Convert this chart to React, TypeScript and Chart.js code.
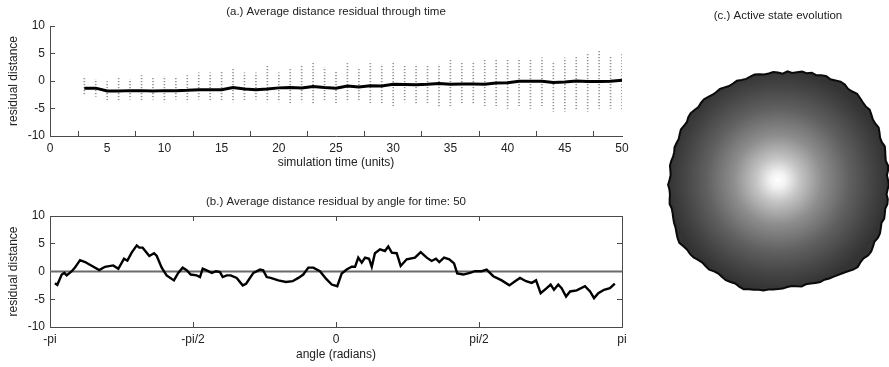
import React, { useEffect, useRef } from 'react';
import { Chart, registerables } from 'chart.js';

Chart.register(...registerables);

// ---------- Panel (a) data ----------
const timeSteps = [3, 4, 5, 6, 7, 8, 9, 10, 11, 12, 13, 14, 15, 16, 17, 18, 19, 20, 21, 22, 23, 24, 25, 26, 27, 28, 29, 30, 31, 32, 33, 34, 35, 36, 37, 38, 39, 40, 41, 42, 43, 44, 45, 46, 47, 48, 49, 50];
const meanResidual = [-1.3, -1.3, -1.8, -1.8, -1.75, -1.75, -1.8, -1.75, -1.75, -1.7, -1.6, -1.6, -1.6, -1.2, -1.45, -1.6, -1.45, -1.25, -1.2, -1.25, -1.0, -1.2, -1.3, -0.9, -1.1, -0.85, -0.9, -0.6, -0.65, -0.7, -0.6, -0.45, -0.6, -0.55, -0.55, -0.6, -0.35, -0.3, -0.05, -0.05, -0.05, -0.25, -0.2, 0.0, -0.1, -0.1, -0.05, 0.15];
const spreadHigh = [0.5, 0.3, 0.0, 0.5, 0.3, 1.0, 0.5, 0.8, 0.5, 1.0, 1.5, 1.5, 1.8, 2.3, 1.5, 1.5, 2.8, 1.5, 2.2, 2.8, 3.3, 2.5, 1.8, 3.2, 2.2, 3.2, 3.0, 3.5, 2.8, 3.0, 2.8, 3.0, 4.0, 3.5, 3.5, 4.0, 3.8, 3.8, 4.0, 4.0, 4.2, 3.5, 4.2, 4.5, 5.0, 5.5, 4.5, 5.0];
const spreadLow = [-2.5, -2.8, -3.5, -3.5, -3.3, -3.5, -3.3, -3.8, -3.3, -3.8, -3.3, -3.5, -3.5, -3.8, -3.5, -3.3, -3.8, -3.8, -4.0, -3.8, -4.2, -3.5, -4.0, -3.8, -3.5, -4.0, -4.0, -4.5, -3.8, -4.2, -4.0, -4.8, -4.5, -4.0, -4.2, -4.5, -4.5, -5.0, -4.5, -5.0, -4.5, -5.5, -5.5, -5.2, -5.5, -5.0, -5.0, -5.3];

// ---------- Panel (b) data (angle in degrees, shown with radian labels) ----------
const angleDeg = [-176.9, -175.4, -172.6, -171.0, -169.5, -166.3, -164.3, -161.1, -157.9, -152.7, -149.0, -145.4, -140.2, -137.0, -133.4, -131.3, -128.6, -125.4, -123.8, -121.7, -117.5, -114.5, -112.8, -109.7, -106.6, -102.0, -99.3, -96.5, -94.0, -91.4, -87.7, -85.6, -83.9, -81.4, -78.2, -75.5, -73.0, -71.3, -68.8, -66.3, -62.5, -58.7, -56.6, -52.0, -47.8, -45.8, -43.6, -41.1, -36.3, -31.5, -27.3, -23.7, -20.6, -17.4, -14.3, -10.1, -6.3, -2.7, 0.8, 3.6, 6.7, 9.9, 12.0, 14.0, 16.2, 18.3, 20.8, 22.5, 24.5, 27.7, 30.8, 32.9, 35.1, 38.2, 40.7, 44.5, 49.7, 53.3, 57.1, 60.2, 62.9, 65.0, 68.0, 71.3, 74.3, 76.3, 80.1, 84.3, 87.5, 91.7, 94.8, 99.0, 104.3, 109.1, 112.7, 115.8, 119.6, 123.2, 125.9, 128.8, 132.6, 135.1, 137.2, 139.9, 142.0, 144.8, 147.3, 151.5, 156.7, 159.9, 162.4, 165.1, 168.7, 172.4, 175.5];
const residualByAngle = [-2.1, -2.4, -0.55, -0.25, -0.7, 0.05, 0.7, 2.05, 1.7, 0.85, 0.25, 0.85, 1.1, 0.5, 2.3, 1.95, 3.4, 4.7, 4.3, 4.3, 2.8, 3.3, 2.8, 0.7, -0.7, -1.6, -0.25, 0.7, 0.25, -0.55, -0.7, -1.0, 0.5, 0.2, -0.25, 0.05, -0.1, -1.0, -0.7, -0.7, -1.15, -2.5, -2.2, -0.25, 0.35, 0.2, -1.0, -1.15, -1.6, -1.9, -1.75, -1.15, -0.55, 0.7, 0.7, 0.05, -1.3, -2.35, -2.65, -0.35, 0.35, 0.85, 0.85, 2.5, 1.6, 2.5, 2.3, 0.85, 3.3, 4.0, 3.7, 4.5, 3.4, 3.3, 1.0, 2.2, 2.5, 3.5, 2.5, 1.9, 2.3, 1.7, 2.5, 2.2, 1.45, -0.35, -0.55, -0.25, 0.05, 0.05, 0.35, -0.85, -1.6, -2.5, -1.75, -1.15, -1.75, -2.05, -1.6, -3.9, -3.0, -2.35, -3.3, -2.35, -3.0, -4.5, -3.6, -3.4, -2.65, -3.6, -4.8, -3.9, -3.3, -3.0, -2.2];
const zeroLineX = [-180, 180];
const zeroLineY = [0, 0];
const angleTickLabels: Record<string, string> = { '-180': '-pi', '-90': '-pi/2', '0': '0', '90': 'pi/2', '180': 'pi' };

// ---------- Panel (c) data (boundary radius by direction, clockwise from top) ----------
const blobAngles = ['0', '2.5', '5', '7.5', '10', '12.5', '15', '17.5', '20', '22.5', '25', '27.5', '30', '32.5', '35', '37.5', '40', '42.5', '45', '47.5', '50', '52.5', '55', '57.5', '60', '62.5', '65', '67.5', '70', '72.5', '75', '77.5', '80', '82.5', '85', '87.5', '90', '92.5', '95', '97.5', '100', '102.5', '105', '107.5', '110', '112.5', '115', '117.5', '120', '122.5', '125', '127.5', '130', '132.5', '135', '137.5', '140', '142.5', '145', '147.5', '150', '152.5', '155', '157.5', '160', '162.5', '165', '167.5', '170', '172.5', '175', '177.5', '180', '182.5', '185', '187.5', '190', '192.5', '195', '197.5', '200', '202.5', '205', '207.5', '210', '212.5', '215', '217.5', '220', '222.5', '225', '227.5', '230', '232.5', '235', '237.5', '240', '242.5', '245', '247.5', '250', '252.5', '255', '257.5', '260', '262.5', '265', '267.5', '270', '272.5', '275', '277.5', '280', '282.5', '285', '287.5', '290', '292.5', '295', '297.5', '300', '302.5', '305', '307.5', '310', '312.5', '315', '317.5', '320', '322.5', '325', '327.5', '330', '332.5', '335', '337.5', '340', '342.5', '345', '347.5', '350', '352.5', '355', '357.5'];
const blobRadius = [107.5, 106.5, 109, 108, 109.5, 111, 110.5, 112.5, 111.5, 113.5, 114.5, 113.5, 115, 116.5, 116.5, 115, 115.5, 117, 116, 115, 114.5, 115.5, 114, 112.5, 112.5, 113.5, 112, 110.5, 110.5, 112, 111, 110, 109.5, 111, 110.5, 109, 110, 111, 110, 109.5, 111.5, 112, 111, 112, 113, 112, 113.5, 115, 115.5, 114.5, 116, 117.5, 117.5, 116, 116.5, 118, 117, 115, 113.5, 112.5, 111.5, 111, 110, 110.5, 109.5, 108.5, 108, 109, 108, 107, 107.5, 108.5, 109, 109.5, 110, 111.5, 111.5, 112.5, 113, 114.5, 113.5, 112, 112.5, 113, 112, 111, 111.5, 113, 112.5, 112, 113, 114.5, 115, 114.5, 115.5, 117, 116, 114.5, 113, 112.5, 111.5, 110.5, 110, 111, 110, 109, 109, 110, 108.5, 107.5, 108, 109, 108.5, 107.5, 107.5, 108.5, 108, 107.5, 108.5, 109.5, 108.5, 108, 109.5, 110, 109, 108, 109, 109.5, 108.5, 107.5, 107.5, 108, 107, 106, 106.5, 107.5, 106.5, 106, 107, 108, 107.5, 106.5, 107, 108];

const FONT = "'Liberation Sans', Arial, Helvetica, sans-serif";
const AXIS = '#4a4a4a';
const TEXT = '#222222';
const tickFont = { family: FONT, size: 12 };

// axis line with short tick marks pointing into the plot (negative tick length)
const innerGrid = { display: true, drawOnChartArea: false, drawTicks: true, tickLength: -5, color: AXIS, lineWidth: 1 };
const axisBorder = { display: true, color: AXIS, width: 1 };

const titleOpts = (text: string, top: number, bottom: number) => ({
  display: true,
  text,
  fullSize: false,
  color: TEXT,
  font: { family: FONT, size: 11.5, weight: 'normal' as const },
  padding: { top, bottom },
});

function dottedPattern(): CanvasPattern | string {
  const c = document.createElement('canvas');
  c.width = 2;
  c.height = 3;
  const g = c.getContext('2d');
  if (!g) return 'rgba(0,0,0,0.2)';
  g.fillStyle = 'rgba(40,40,40,0.5)';
  g.fillRect(0, 0, 2, 1);
  g.fillStyle = 'rgba(40,40,40,0.1)';
  g.fillRect(0, 1, 2, 1);
  return g.createPattern(c, 'repeat') || 'rgba(0,0,0,0.2)';
}

function PanelA() {
  const ref = useRef<HTMLCanvasElement>(null);
  useEffect(() => {
    const chart = new Chart(ref.current!, {
      type: 'bar',
      data: {
        datasets: [
          {
            type: 'line',
            data: timeSteps.map((t, i) => ({ x: t, y: meanResidual[i] })),
            borderColor: '#000000',
            borderWidth: 3,
            pointRadius: 0,
            tension: 0,
            order: 0,
          } as any,
          {
            type: 'bar',
            data: timeSteps.map((t, i) => ({ x: t, y: [spreadLow[i], spreadHigh[i]] })),
            backgroundColor: dottedPattern(),
            barThickness: 1,
            grouped: false,
            order: 1,
          } as any,
        ],
      },
      options: {
        responsive: false,
        animation: false,
        layout: { padding: { left: 0, right: 18, top: 0, bottom: 0 } },
        plugins: {
          legend: { display: false },
          tooltip: { enabled: false },
          title: titleOpts('(a.) Average distance residual through time', 5, 7.2),
        },
        scales: {
          x: {
            type: 'linear',
            min: 0,
            max: 50,
            offset: false,
            grid: innerGrid,
            border: axisBorder,
            ticks: { stepSize: 5, padding: 10, maxRotation: 0, autoSkip: false, color: TEXT, font: tickFont },
            title: { display: true, text: 'simulation time (units)', color: TEXT, font: tickFont, padding: { top: 0, bottom: 15 } },
            afterFit: (s: any) => { s.height = 49; },
          },
          y: {
            min: -10,
            max: 10,
            grid: innerGrid,
            border: axisBorder,
            ticks: { stepSize: 5, padding: 10, color: TEXT, font: tickFont },
            title: { display: true, text: 'residual distance', color: TEXT, font: tickFont, padding: { top: 6, bottom: 0 } },
            afterFit: (s: any) => { s.width = 50; },
          },
        },
      },
    });
    return () => chart.destroy();
  }, []);
  return <canvas ref={ref} width={640} height={185} style={{ display: 'block' }} />;
}

function PanelB() {
  const ref = useRef<HTMLCanvasElement>(null);
  useEffect(() => {
    const chart = new Chart(ref.current!, {
      type: 'line',
      data: {
        datasets: [
          {
            data: angleDeg.map((a, i) => ({ x: a, y: residualByAngle[i] })),
            borderColor: '#000000',
            borderWidth: 2.4,
            pointRadius: 0,
            tension: 0,
            order: 0,
          },
          {
            data: zeroLineX.map((a, i) => ({ x: a, y: zeroLineY[i] })),
            borderColor: '#6a6a6a',
            borderWidth: 2,
            pointRadius: 0,
            order: 1,
          },
        ],
      },
      options: {
        responsive: false,
        animation: false,
        layout: { padding: { left: 0, right: 18, top: 0, bottom: 0 } },
        plugins: {
          legend: { display: false },
          tooltip: { enabled: false },
          title: titleOpts('(b.) Average distance residual by angle for time: 50', 10, 7.2),
        },
        scales: {
          x: {
            type: 'linear',
            position: 'bottom',
            min: -180,
            max: 180,
            grid: innerGrid,
            border: axisBorder,
            ticks: {
              stepSize: 90,
              padding: 10,
              maxRotation: 0,
              autoSkip: false,
              color: TEXT,
              font: tickFont,
              callback: (v: any) => angleTickLabels[String(v)] ?? '',
            },
            title: { display: true, text: 'angle (radians)', color: TEXT, font: tickFont, padding: { top: 0, bottom: 5 } },
            afterFit: (s: any) => { s.height = 40; },
          },
          x2: {
            type: 'linear',
            position: 'top',
            min: -180,
            max: 180,
            grid: innerGrid,
            border: axisBorder,
            ticks: { stepSize: 90, display: false },
            afterFit: (s: any) => { s.height = 0; },
          },
          y: {
            position: 'left',
            min: -10,
            max: 10,
            grid: innerGrid,
            border: axisBorder,
            ticks: { stepSize: 5, padding: 10, color: TEXT, font: tickFont },
            title: { display: true, text: 'residual distance', color: TEXT, font: tickFont, padding: { top: 6, bottom: 0 } },
            afterFit: (s: any) => { s.width = 50; },
          },
          y2: {
            type: 'linear',
            position: 'right',
            min: -10,
            max: 10,
            grid: innerGrid,
            border: axisBorder,
            ticks: { stepSize: 5, display: false },
            afterFit: (s: any) => { s.width = 0; },
          },
        },
      },
    });
    return () => chart.destroy();
  }, []);
  return <canvas ref={ref} width={640} height={182} style={{ display: 'block' }} />;
}

function PanelC() {
  const ref = useRef<HTMLCanvasElement>(null);
  useEffect(() => {
    const chart = new Chart(ref.current!, {
      type: 'radar',
      data: {
        labels: blobAngles,
        datasets: [
          {
            data: blobRadius,
            borderColor: '#0a0a0a',
            borderWidth: 2,
            pointRadius: 0,
            tension: 0,
            fill: true,
            clip: false as any,
            backgroundColor: (c: any) => {
              const s = c.chart.scales.r;
              if (!s || s.xCenter === undefined) return '#555555';
              const g = c.chart.ctx.createRadialGradient(s.xCenter, s.yCenter, 0, s.xCenter, s.yCenter, s.drawingArea);
              g.addColorStop(0, '#ffffff');
              g.addColorStop(0.07, '#f2f2f2');
              g.addColorStop(0.2, '#c4c4c4');
              g.addColorStop(0.4, '#8e8e8e');
              g.addColorStop(0.65, '#606060');
              g.addColorStop(0.85, '#454545');
              g.addColorStop(1, '#333333');
              return g;
            },
          },
        ],
      },
      options: {
        responsive: false,
        animation: false,
        layout: { padding: { left: 28, right: 1, top: 0, bottom: 77 } },
        plugins: {
          legend: { display: false },
          tooltip: { enabled: false },
          title: titleOpts('(c.) Active state evolution', 9, 47.2),
        },
        scales: {
          r: {
            min: 0,
            max: 110,
            ticks: { display: false },
            grid: { display: false },
            angleLines: { display: false },
            pointLabels: { display: false },
          },
        },
      },
    });
    return () => chart.destroy();
  }, []);
  return <canvas ref={ref} width={249} height={367} style={{ display: 'block' }} />;
}

export default function App() {
  return (
    <div style={{ position: 'absolute', left: 0, top: 0, width: 889, height: 367, overflow: 'hidden', background: '#ffffff' }}>
      <div style={{ position: 'absolute', left: 0, top: 0 }}>
        <PanelA />
      </div>
      <div style={{ position: 'absolute', left: 0, top: 185 }}>
        <PanelB />
      </div>
      <div style={{ position: 'absolute', left: 640, top: 0 }}>
        <PanelC />
      </div>
    </div>
  );
}
